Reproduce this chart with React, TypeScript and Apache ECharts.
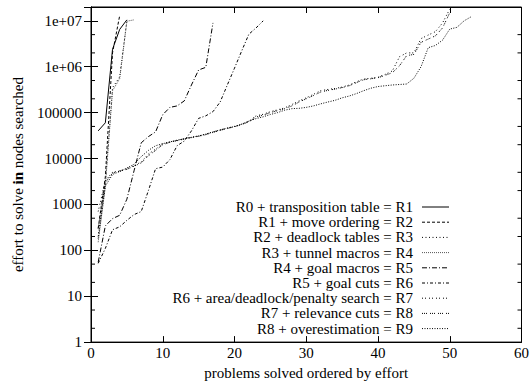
import React, { useEffect, useRef } from 'react';
import * as echarts from 'echarts';

const SERIES_NAMES = [
  'R0 + transposition table = R1',
  'R1 + move ordering = R2',
  'R2 + deadlock tables = R3',
  'R3 + tunnel macros = R4',
  'R4 + goal macros = R5',
  'R5 + goal cuts = R6',
  'R6 + area/deadlock/penalty search = R7',
  'R7 + relevance cuts = R8',
  'R8 + overestimation = R9',
];

// effort per problem (x = 1..N)
const R1 = [40000, 60000, 2400000, 6500000, 10500000];
const R2 = [300, 4000, 2000000, 13000000];
const R3 = [200, 3000, 350000, 600000, 10000000];
const R4 = [150, 2500, 300000, 550000, 9800000, 10500000];
const R5 = [55, 340, 490, 580, 1300, 5400, 22000, 30000, 38000, 90000, 130000, 140000, 180000, 400000, 850000, 970000, 9000000];
const R6 = [52, 110, 280, 325, 450, 600, 700, 2000, 6000, 6500, 9500, 19000, 24000, 40000, 75000, 85000, 105000, 170000, 400000, 930000, 2200000, 5100000, 7000000, 10000000];
const R7 = [700, 3300, 5000, 5400, 6000, 7000, 8400, 12500, 16000, 21000, 23000, 25000, 27000, 29000, 31000, 34000, 38000, 42000, 46000, 50000, 56000, 65000,
  85000, 92000, 105000, 115000, 127000, 150000, 180000, 210000, 250000, 300000, 320000, 335000, 360000, 400000, 470000, 540000, 560000, 590000, 680000, 810000,
  1650000, 2000000, 2000000, 4100000, 4900000, 5800000, 9000000, 18000000];
const R8 = [300, 3000, 4800, 5300, 5800, 6800, 8000, 11500, 15000, 20000, 22500, 24500, 26500, 28500, 30500, 33000, 37000, 41000, 45000, 49000, 55000, 63000,
  80000, 88000, 100000, 110000, 122000, 140000, 170000, 200000, 235000, 280000, 305000, 325000, 350000, 385000, 450000, 520000, 545000, 575000, 650000, 740000,
  1050000, 1750000, 1850000, 3400000, 4000000, 4700000, 7000000, 15000000];
const R9 = [180, 2500, 4500, 5200, 6200, 7500, 11000, 15000, 19000, 21000, 23000, 25000, 27000, 29000, 31000, 34000, 38000, 42000, 46000, 50000, 56000, 65000,
  74000, 81000, 91000, 100000, 113000, 122000, 124000, 130000, 140000, 155000, 170000, 185000, 210000, 230000, 260000, 300000, 340000, 370000, 385000, 400000,
  410000, 420000, 560000, 1000000, 2600000, 2900000, 3800000, 6600000, 7200000, 10000000, 12300000];

const SERIES_VALUES = [R1, R2, R3, R4, R5, R6, R7, R8, R9];

const Y_TICK_LABELS = ['1', '10', '100', '1000', '10000', '100000', '1e+06', '1e+07'];
const MINOR_TICKS = [2, 5, 20, 50, 200, 500, 2000, 5000, 20000, 50000, 200000, 500000, 2000000, 5000000];

const DASHES: (number[] | 'solid')[] = [
  'solid',
  [3, 2],
  [1, 2.5],
  [1, 1],
  [5, 2, 1, 2],
  [3, 2, 1, 2],
  [1, 2, 1, 3],
  [1, 1, 1, 1, 1, 3],
  [1, 1.5],
];
const COLORS = ['#000', '#000', '#000', '#555', '#000', '#000', '#000', '#000', '#000'];

const FONT = 'Times New Roman, Liberation Serif, DejaVu Serif, serif';

export default function App() {
  const ref = useRef<HTMLDivElement>(null);
  useEffect(() => {
    document.body.style.margin = '0';
    const chart = echarts.init(ref.current!, null, { renderer: 'svg' });
    const gridLeft = 91, gridRight = 8, gridTop = 7, gridBottom = 41;

    const lineSeries = SERIES_VALUES.map((vals, i) => ({
      name: SERIES_NAMES[i],
      type: 'line',
      data: vals.map((v, j) => [j + 1, v]),
      showSymbol: false,
      symbol: 'none',
      lineStyle: { color: COLORS[i], width: 1, type: DASHES[i] as any },
      itemStyle: { color: COLORS[i] },
      z: 3,
    }));

    const minorSeries = {
      type: 'custom',
      data: MINOR_TICKS.map((v) => [0, v]),
      renderItem: (params: any, api: any) => {
        const v = api.value(1);
        const pL = api.coord([0, v]);
        const pR = api.coord([60, v]);
        return {
          type: 'group',
          children: [
            { type: 'line', shape: { x1: pL[0], y1: pL[1], x2: pL[0] + 4, y2: pL[1] }, style: { stroke: '#000', lineWidth: 1 } },
            { type: 'line', shape: { x1: pR[0] - 4, y1: pR[1], x2: pR[0], y2: pR[1] }, style: { stroke: '#000', lineWidth: 1 } },
          ],
        };
      },
      silent: true,
      z: 4,
    };

    const rowTop = 207, rowGap = 15.2, textRight = 413, lineX1 = 422, lineX2 = 449;
    const legendGraphics: any[] = [];
    SERIES_NAMES.forEach((name, i) => {
      const y = rowTop + i * rowGap;
      legendGraphics.push({
        type: 'text',
        x: textRight,
        y,
        style: { text: name, align: 'right', verticalAlign: 'middle', fontFamily: FONT, fontSize: 15, fill: '#000' },
      });
      legendGraphics.push({
        type: 'line',
        shape: { x1: lineX1, y1: y, x2: lineX2, y2: y },
        style: { stroke: COLORS[i], lineWidth: 1, lineDash: DASHES[i] === 'solid' ? null : DASHES[i] },
      });
    });

    const yFormatter = (v: number) => {
      const e = Math.round(Math.log10(v));
      if (Math.abs(v - Math.pow(10, e)) > 1e-9 * v) return '';
      return Y_TICK_LABELS[e] ?? '';
    };

    chart.setOption({
      animation: false,
      textStyle: { fontFamily: FONT },
      grid: { left: gridLeft, right: gridRight, top: gridTop, bottom: gridBottom, show: true, borderColor: '#000', borderWidth: 1, backgroundColor: 'transparent' },
      xAxis: [
        {
          type: 'value', min: 0, max: 60, interval: 10,
          name: 'problems solved ordered by effort', nameLocation: 'middle', nameGap: 21,
          nameTextStyle: { fontFamily: FONT, fontSize: 15, color: '#000' },
          axisLine: { show: true, lineStyle: { color: '#000', width: 1 } },
          axisTick: { show: true, inside: true, length: 6, lineStyle: { color: '#000' } },
          axisLabel: { fontFamily: FONT, fontSize: 15, color: '#000', margin: 3, showMaxLabel: true },
          splitLine: { show: false },
        },
        {
          type: 'value', min: 0, max: 60, interval: 10, position: 'top',
          axisLine: { show: true, lineStyle: { color: '#000', width: 1 } },
          axisTick: { show: true, inside: true, length: 6, lineStyle: { color: '#000' } },
          axisLabel: { show: false },
          splitLine: { show: false },
        },
      ],
      yAxis: [
        {
          type: 'log', logBase: 10, min: 1, max: 20000000,
          name: '{a|effort to solve }{b|in}{a| nodes searched}', nameLocation: 'middle', nameGap: 66, nameRotate: 90,
          nameTextStyle: {
            fontFamily: FONT, fontSize: 15, color: '#000',
            rich: {
              a: { fontFamily: FONT, fontSize: 15, color: '#000' },
              b: { fontFamily: FONT, fontSize: 15, color: '#000', fontWeight: 'bold' },
            },
          },
          axisLine: { show: true, lineStyle: { color: '#000', width: 1 } },
          axisTick: { show: true, inside: true, length: 7, lineStyle: { color: '#000' } },
          axisLabel: { fontFamily: FONT, fontSize: 15, color: '#000', margin: 9, formatter: yFormatter, showMaxLabel: false },
          splitLine: { show: false },
        },
        {
          type: 'log', logBase: 10, min: 1, max: 20000000, position: 'right',
          axisLine: { show: true, lineStyle: { color: '#000', width: 1 } },
          axisTick: { show: true, inside: true, length: 7, lineStyle: { color: '#000' } },
          axisLabel: { show: false },
          splitLine: { show: false },
        },
      ],
      series: [...lineSeries, minorSeries],
      graphic: legendGraphics,
    });
    return () => chart.dispose();
  }, []);
  return <div ref={ref} style={{ width: 532, height: 385 }} />;
}
